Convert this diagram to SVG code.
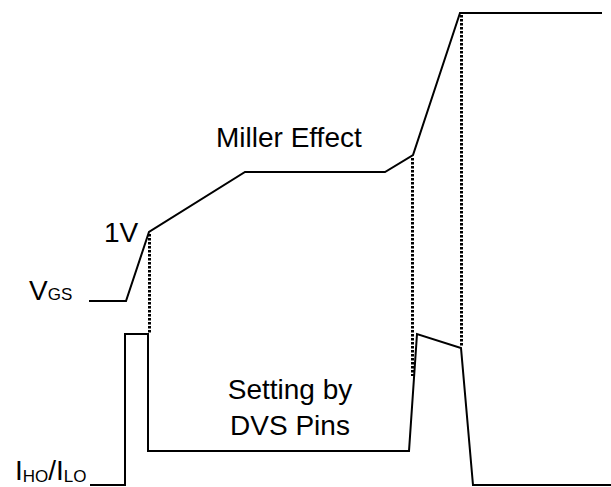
<svg xmlns="http://www.w3.org/2000/svg" width="611" height="487" viewBox="0 0 611 487">
<style>
.w{fill:none;stroke:#000;stroke-width:2;stroke-linejoin:miter}
.d{fill:none;stroke:#000;stroke-width:3;stroke-dasharray:2.5 1.5}
text{font-family:"Liberation Sans",Arial,sans-serif;fill:#000}
.t{font-size:28px}
.s{font-size:17px}
</style>
<rect width="611" height="487" fill="#fff"/>
<g id="connectors">
<path id="vgs" class="w" d="M89 301 H126 L149 232 L245 172 H385 L413 155 L460 13 H602"/>
<path id="iho" class="w" d="M90 485 H125 V334 H148 V451 H409 L417 334 L461 348 L473 485 H611"/>
<path class="d" d="M149.5 234 V334"/>
<path class="d" d="M412.5 158 V376"/>
<path class="d" d="M461.5 15 V347"/>
</g>
<g id="labels">
<text class="t" x="216" y="147">Miller Effect</text>
<text class="t" x="104" y="242">1V</text>
<text x="29" y="300"><tspan class="t">V</tspan><tspan class="s">GS</tspan></text>
<text x="15" y="480"><tspan class="t">I</tspan><tspan class="s" dy="2">HO</tspan><tspan class="t" dy="-2">/I</tspan><tspan class="s" dy="2">LO</tspan></text>
<text class="t" x="290" y="399" text-anchor="middle">Setting by</text>
<text class="t" x="290" y="435" text-anchor="middle">DVS Pins</text>
</g>
</svg>
